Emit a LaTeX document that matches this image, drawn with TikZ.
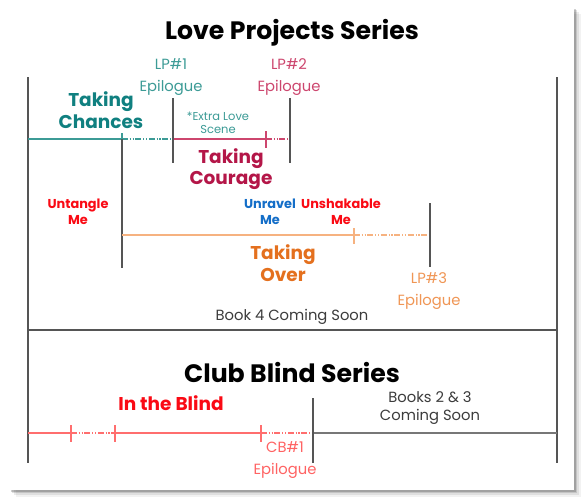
\documentclass[tikz,border=0pt]{standalone}
\usepackage{fontspec}
\setmainfont{Poppins}
\usepackage{xcolor}
\definecolor{tealT}{RGB}{16,128,128}
\definecolor{tealL}{RGB}{60,155,150}
\definecolor{crim}{RGB}{180,22,72}
\definecolor{crimL}{RGB}{205,70,110}
\definecolor{redT}{RGB}{250,10,20}
\definecolor{redL}{RGB}{255,110,110}
\definecolor{blueT}{RGB}{20,110,200}
\definecolor{orgT}{RGB}{228,112,30}
\definecolor{orgE}{RGB}{240,150,85}
\definecolor{orgL}{RGB}{246,178,128}
\definecolor{coal}{RGB}{60,60,60}
\definecolor{frame}{RGB}{85,85,85}
\usetikzlibrary{positioning}

\begin{document}
\begin{tikzpicture}[x=0.03cm,y=-0.03cm,
  series/.style={font=\fontsize{21.5}{24}\selectfont\bfseries,inner sep=0pt},
  book/.style={font=\fontsize{15.8}{18.5}\selectfont\bfseries,align=center,inner sep=0pt},
  mini/.style={font=\fontsize{11}{13.5}\selectfont\bfseries,align=center,inner sep=0pt},
  epi/.style={font=\fontsize{12.6}{18.5}\selectfont,align=center,inner sep=0pt},
  note/.style={font=\fontsize{9.8}{11.5}\selectfont,align=center,inner sep=0pt},
  soon/.style={font=\fontsize{12.6}{15.5}\selectfont,align=center,inner sep=0pt,text=coal},
  rail/.style={line width=0.9pt,draw=frame},
  tl/.style={line width=1.1pt},
  gap/.style={line width=1.1pt,dash pattern=on 5pt off 1.5pt on 1pt off 1.5pt on 1pt off 1.5pt},
]
  \useasboundingbox (0,0) rectangle (584,504);
  % card with soft shadow
  \foreach \s/\o in {7/0.05,5/0.08,3/0.12,1.5/0.18}
    \fill[black,opacity=\o] (9+\s,7+\s) rectangle (574+\s,490+\s);
  \fill[white] (9,7) rectangle (574,490);

  % titles
  \node[series] (lpTitle) at (292,33) {Love Projects Series};
  \node[series] (cbTitle) at (292,373) {Club Blind Series};

  % frame
  \coordinate (fTL) at (28,77);
  \coordinate (fTR) at (557,77);
  \coordinate (fBL) at (28,463);
  \coordinate (fBR) at (557,463);
  \coordinate (divL) at (28,330);
  \coordinate (divR) at (557,330);
  \draw[rail] (fTL) -- (fBL);
  \draw[rail] (fTR) -- (fBR);
  \draw[rail] (divL) -- (divR);

  % book 1 / book 2 line
  \coordinate (tcA) at (28,139);
  \coordinate (tcB) at (122,139);
  \coordinate (ep1) at (173,139);
  \coordinate (tgB) at (266,139);
  \coordinate (ep2) at (290,139);
  \draw[tl,tealL] (tcA) -- (tcB);
  \draw[gap,tealL] (tcB) -- (ep1);
  \draw[tl,crimL] (ep1) -- (tgB);
  \draw[gap,crimL] (tgB) -- (ep2);
  \draw[tl,tealL] (tcB) -- ++(0,-6);
  \draw[tl,crimL] (tgB) ++(0,-8) -- ++(0,17);
  \draw[rail] (173,98) -- (173,163);
  \draw[rail] (290,98) -- (290,163);
  \draw[rail] (tcB) -- (122,268);

  % book 3 line
  \coordinate (toA) at (122,235);
  \coordinate (toB) at (354,235);
  \coordinate (ep3) at (430,235);
  \draw[tl,orgL] (toA) -- (toB);
  \draw[gap,orgL] (toB) -- (ep3);
  \draw[tl,orgL] (toB) ++(0,-7) -- ++(0,16);
  \draw[rail] (430,203) -- (430,267);

  % club blind line
  \coordinate (cbA) at (28,433);
  \coordinate (cbT1) at (71,433);
  \coordinate (cbT2) at (115,433);
  \coordinate (cbT3) at (261,433);
  \coordinate (cbE) at (313,433);
  \draw[tl,redL] (cbA) -- (cbT1);
  \draw[gap,redL] (cbT1) -- (cbT2);
  \draw[tl,redL] (cbT2) -- (cbT3);
  \draw[gap,redL] (cbT3) -- (cbE);
  \foreach \t in {cbT1,cbT2,cbT3}
    \draw[tl,redL] (\t) ++(0,-8) -- ++(0,17);
  \draw[rail,draw=frame!80] (cbE) -- (557,433);
  \draw[rail] (313,398) -- (313,463);

  % labels
  \node[book,text=tealT] (chances) at (101,110) {Taking\\Chances};
  \node[epi,text=tealL] (lp1) at (171,77) {LP\#1\\Epilogue};
  \node[epi,text=crimL] (lp2) at (289,77) {LP\#2\\Epilogue};
  \node[note,text=tealL] (extra) at (218,123) {*Extra Love\\Scene};
  \node[book,text=crim] (courage) at (231,169) {Taking\\Courage};
  \node[mini,text=redT] (untangle) at (78,212) {Untangle\\Me};
  \node[mini,text=blueT] (unravel) at (270,212) {Unravel\\Me};
  \node[mini,text=redT] (unshake) at (341,212) {Unshakable\\Me};
  \node[book,text=orgT] (over) at (283,263) {Taking\\Over};
  \node[epi,text=orgE] (lp3) at (429,291) {LP\#3\\Epilogue};
  \node[soon] (book4) at (292,317) {Book 4 Coming Soon};
  \node[book,text=redT] (blind) at (171,403) {In the Blind};
  \node[soon] (books23) at (430,408) {Books 2 \& 3\\Coming Soon};
  \node[epi,text=redL!90!red] (cb1) at (285,460) {CB\#1\\Epilogue};
\end{tikzpicture}
\end{document}
